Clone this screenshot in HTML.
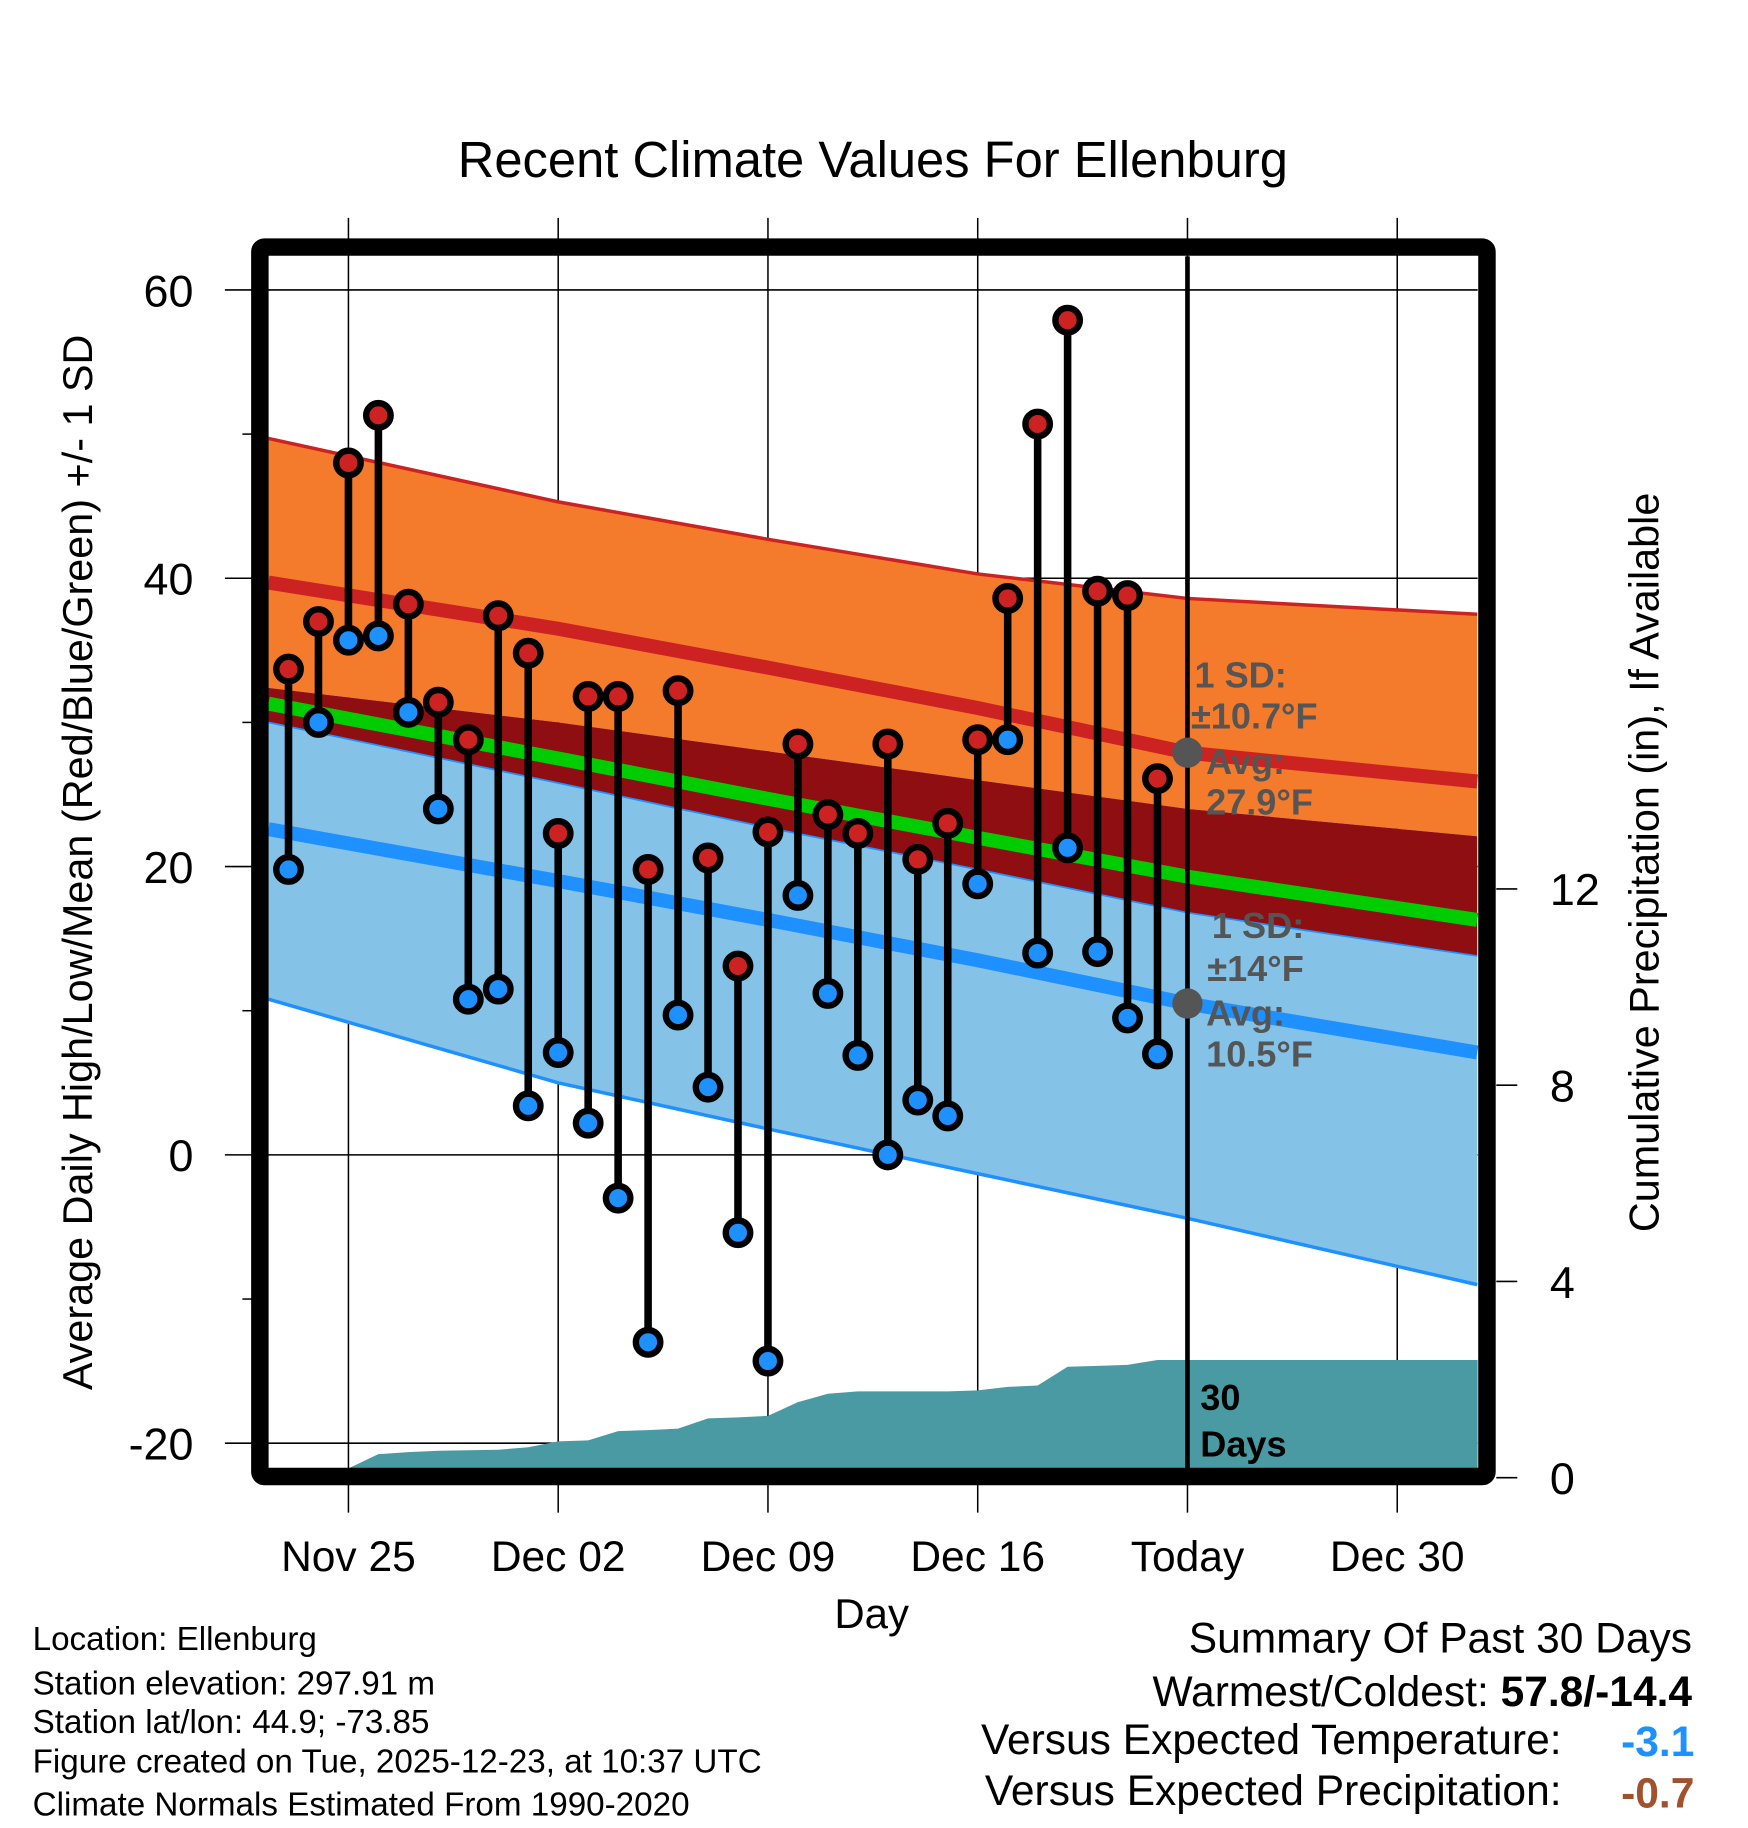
<!DOCTYPE html>
<html><head><meta charset="utf-8"><style>
html,body{margin:0;padding:0;background:#fff;width:1748px;height:1828px;overflow:hidden}
svg{display:block;font-family:"Liberation Sans",sans-serif}
</style></head><body>
<svg id="chart" width="1748" height="1828" viewBox="0 0 1500 1568.6" preserveAspectRatio="none" xmlns="http://www.w3.org/2000/svg">
<text x="749" y="152" font-size="43.5" text-anchor="middle">Recent Climate Values For Ellenburg</text>
<g id="grid"></g>
<g id="bands"></g>
<g id="precip"></g>
<g id="marks"></g>
<g id="frame"></g>
<g id="labels"></g>
<text transform="translate(79,740) rotate(-90)" font-size="35.5" text-anchor="middle">Average Daily High/Low/Mean (Red/Blue/Green) +/- 1 SD</text>
<text transform="translate(1423,740) rotate(-90)" font-size="35.5" text-anchor="middle">Cumulative Precipitation (in), If Available</text>
<text x="748" y="1397" font-size="36" text-anchor="middle">Day</text>
<g font-size="28.5">
<text x="28" y="1416">Location: Ellenburg</text>
<text x="28" y="1454">Station elevation: 297.91 m</text>
<text x="28" y="1487">Station lat/lon: 44.9; -73.85</text>
<text x="28" y="1521">Figure created on Tue, 2025-12-23, at 10:37 UTC</text>
<text x="28" y="1558">Climate Normals Estimated From 1990-2020</text>
</g>
<g font-size="36.5" text-anchor="end">
<text x="1452" y="1418">Summary Of Past 30 Days</text>
<text x="1452" y="1464">Warmest/Coldest: <tspan font-weight="bold">57.8/-14.4</tspan></text>
<text x="1340" y="1505">Versus Expected Temperature:</text>
<text x="1454" y="1507" fill="#1e90ff" font-weight="bold">-3.1</text>
<text x="1340" y="1549">Versus Expected Precipitation:</text>
<text x="1454" y="1551" fill="#a0522d" font-weight="bold">-0.7</text>
</g>
</svg>
<script>
const highs=[33.7,37.0,48.0,51.3,38.2,31.4,28.8,37.4,34.8,22.3,31.8,31.8,19.8,32.2,20.6,13.1,22.4,28.5,23.6,22.3,28.5,20.5,23.0,28.8,38.6,50.7,57.9,39.1,38.8,26.1];
const lows=[19.8,30.0,35.7,36.0,30.7,24.0,10.8,11.5,3.4,7.1,2.2,-3.0,-13.0,9.7,4.7,-5.4,-14.3,18.0,11.2,6.9,0.0,3.8,2.7,18.8,28.8,14.0,21.3,14.1,9.5,7.0];
const precip=[0,0,0,0.48,0.52,0.55,0.56,0.57,0.62,0.74,0.76,0.95,0.97,1.0,1.21,1.23,1.26,1.54,1.71,1.76,1.76,1.76,1.76,1.78,1.85,1.88,2.26,2.28,2.30,2.40];
const normDays=[-2.67,7,14,21,28,37.67];
const hiUp=[49.7,45.3,42.7,40.3,38.6,37.5];
const hiAvg=[39.7,36.5,33.8,31.0,27.9,25.9];
const hiLo=[32.4,30.0,28.0,26.0,24.0,22.1];
const meanT=[31.3,27.5,24.7,22.0,19.3,16.3];
const loUp=[30.0,25.8,22.7,19.8,16.8,13.8];
const loAvg=[22.6,19.0,16.3,13.5,10.5,7.1];
const loLo=[10.8,5.0,1.8,-1.3,-4.4,-9.0];
const xTickDays=[0,7,14,21,28,35];
const xTickLabels=["Nov 25","Dec 02","Dec 09","Dec 16","Today","Dec 30"];
const yTicks=[60,40,20,0,-20];
const yMinor=[50,30,10,-10];
const y2Ticks=[0,4,8,12];

const NS="http://www.w3.org/2000/svg";
const L=231,R=1268,T=220,B=1260;
const x=d=>299+d*(180/7);
const y=t=>991-t*12.37;
const y2=p=>1268-p*42.1;
function el(tag,attrs,parent){const e=document.createElementNS(NS,tag);for(const k in attrs)e.setAttribute(k,attrs[k]);parent.appendChild(e);return e;}
const g=id=>document.getElementById(id);

const grid=g('grid');
xTickDays.forEach((d,i)=>{const l=el('line',{x1:x(d),x2:x(d),y1:187,y2:1298,stroke:'#000','stroke-width':1.3},grid);

});
yTicks.forEach(t=>{const l=el('line',{x1:193,x2:R,y1:y(t),y2:y(t),stroke:'#000','stroke-width':1.3},grid);

});
yMinor.forEach(t=>{const l=el('line',{x1:208,x2:218,y1:y(t),y2:y(t),stroke:'#000','stroke-width':1.3},grid);

});
y2Ticks.forEach(p=>{const l=el('line',{x1:1284,x2:1302,y1:y2(p),y2:y2(p),stroke:'#000','stroke-width':1.3},grid);

});

const bands=g('bands');
const pts=arr=>normDays.map((d,i)=>x(d)+','+y(arr[i]));
function band(a,b,fill,name){const p=el('polygon',{points:pts(a).concat(pts(b).reverse()).join(' '),fill:fill},bands);

}
function line(a,color,w,name){const p=el('polyline',{points:pts(a).join(' '),fill:'none',stroke:color,'stroke-width':w},bands);

}
band(hiUp,hiLo,'#f47a2c','high-sd-band');
band(loUp,loLo,'#84c2e8','low-sd-band');
band(loUp,hiLo,'#8e0e12','overlap-band');
line(hiUp,'#cc2222',3,'high-plus-sd-line');
line(hiAvg,'#cc2222',12,'avg-high-line');
line(loUp,'#1e90ff',1.5,'low-plus-sd-line');
line(meanT,'#00cc00',12,'avg-mean-line');
line(loAvg,'#1e90ff',12,'avg-low-line');
line(loLo,'#1e90ff',3,'low-minus-sd-line');

const pg=g('precip');
let pp=[];
precip.forEach((v,i)=>pp.push(x(i-2)+','+Math.min(B,y2(v))));
pp.push(R+','+Math.min(B,y2(precip[precip.length-1])));
pp.push(R+','+B);pp.push(x(-2)+','+B);
const pa=el('polygon',{points:pp.join(' '),fill:'#4a9aa3'},pg);



const mg=g('marks');
const tl=el('line',{x1:x(28),x2:x(28),y1:T,y2:B,stroke:'#000','stroke-width':4},mg);


highs.forEach((h,i)=>{const xx=x(i-2);
const s=el('line',{x1:xx,x2:xx,y1:y(h),y2:y(lows[i]),stroke:'#000','stroke-width':6.5},mg);

});
highs.forEach((h,i)=>{const xx=x(i-2);
const c1=el('circle',{cx:xx,cy:y(h),r:10.5,fill:'#cc2222',stroke:'#000','stroke-width':5.5},mg);


const c2=el('circle',{cx:xx,cy:y(lows[i]),r:10.5,fill:'#1e90ff',stroke:'#000','stroke-width':5.5},mg);

});
const d1=el('circle',{cx:x(28),cy:y(hiAvg[4]),r:13,fill:'#555'},mg);


const d2=el('circle',{cx:x(28),cy:y(loAvg[4]),r:13,fill:'#555'},mg);



const fr=el('rect',{x:223,y:212,width:1053,height:1055,rx:4,fill:'none',stroke:'#000','stroke-width':15},g('frame'));



const lg=g('labels');
function txt(s,attrs,name){const t=el('text',attrs,lg);t.textContent=s;

return t;}
xTickDays.forEach((d,i)=>txt(xTickLabels[i],{x:x(d),y:1348,'font-size':36.5,'text-anchor':'middle'},'x-tick-label'));
yTicks.forEach(t=>txt(String(t),{x:166,y:y(t)+14,'font-size':38.5,'text-anchor':'end'},'y-tick-label'));
y2Ticks.forEach(p=>txt(String(p),{x:1330,y:y2(p)+14,'font-size':38.5},'y2-tick-label'));
const ann=[["1 SD:",1025,590],["±10.7°F",1022,625],["Avg:",1035,664],["27.9°F",1035,699],
["1 SD:",1040,805],["±14°F",1036,842],["Avg:",1035,880],["10.5°F",1035,915]];
ann.forEach(a=>txt(a[0],{x:a[1],y:a[2],'font-size':31,'font-weight':'bold',fill:'#555'},'sd-annotation'));
txt("30",{x:1030,y:1210,'font-size':31,'font-weight':'bold'},'precip-days-label');
txt("Days",{x:1030,y:1250,'font-size':31,'font-weight':'bold'},'precip-days-label');
</script>
</body></html>
